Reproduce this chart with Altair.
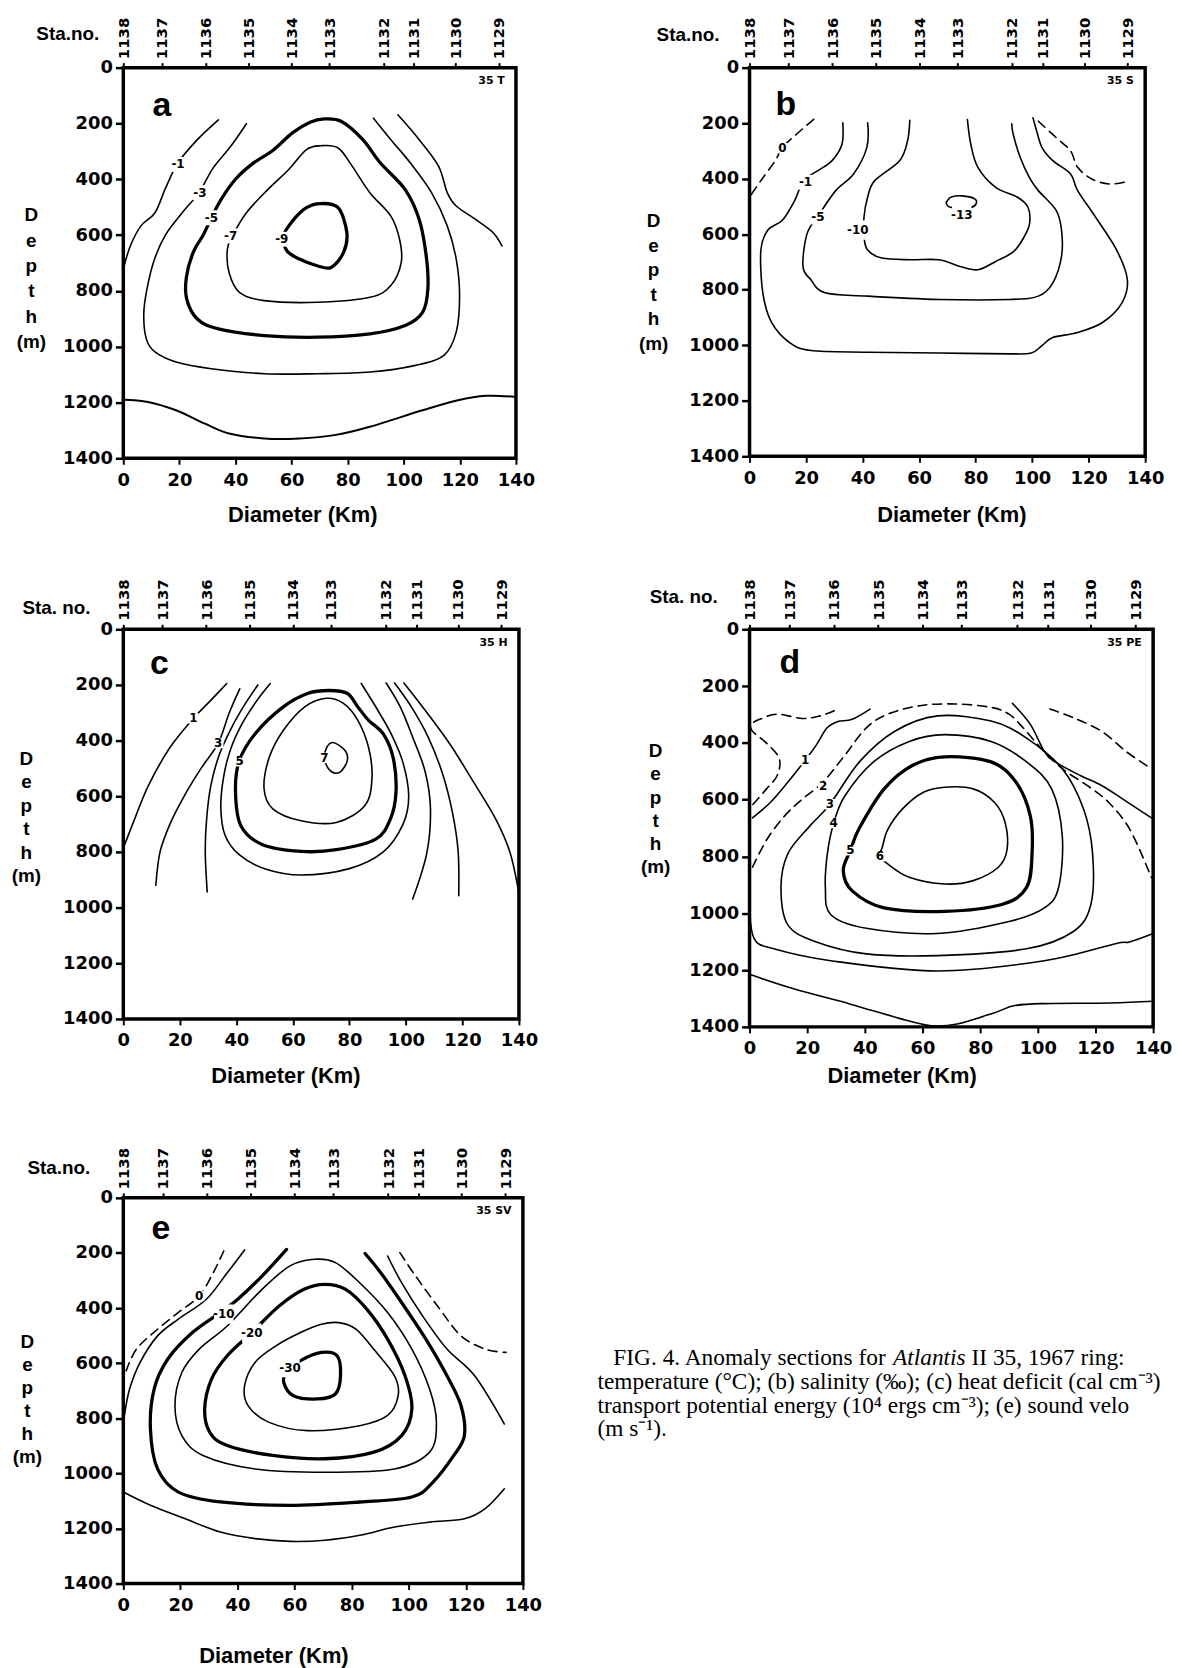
import json
import altair as alt
import pandas as pd

# ---------------- shared axis data ----------------
STATION_NAMES = ["1138", "1137", "1136", "1135", "1134", "1133", "1132", "1131", "1130", "1129"]
STATION_KM = [0, 13.8, 29.3, 44.6, 60.0, 73.5, 92.8, 103.6, 118.4, 133.8]
DEPTH_TICKS = [0, 200, 400, 600, 800, 1000, 1200, 1400]
DIAM_TICKS = [0, 20, 40, 60, 80, 100, 120, 140]

# ---------------- panel a : temperature ----------------
A_M1_L = [(33.9, 187), (26.4, 258), (19.5, 341), (15.1, 431), (11.3, 520), (6.3, 567), (2.5, 639), (0, 722)]
A_M1_R = [(97.9, 169), (105.5, 258), (112.4, 353), (115.5, 448), (118.7, 496), (125.6, 544), (131.8, 591), (135, 639)]
A_M3 = [(43.9, 201), (38.3, 282), (32.0, 360), (27.0, 448), (21.0, 520), (15.0, 600), (11.0, 690), (8.5, 790),
        (7.3, 880), (8.2, 972), (11.3, 1019), (18.8, 1055), (31.4, 1079), (50.2, 1097), (69.1, 1097), (87.9, 1091),
        (104.2, 1067), (114.3, 1031), (118.7, 948), (119.9, 817), (118.7, 686), (115.5, 567), (109.9, 448),
        (102.3, 341), (95.4, 258), (89.2, 181)]
A_M5 = [(71.6, 184), (77.8, 193), (85.4, 258), (91.6, 341), (100.5, 437), (105.5, 544), (108, 674), (108.6, 793),
        (106.7, 877), (100.5, 924), (87.9, 954), (69.1, 966), (50.2, 960), (33.9, 936), (26.4, 901), (22.6, 829),
        (22.5, 750), (25.0, 660), (28.5, 600), (31.4, 538), (35.0, 470), (40.0, 400), (46.0, 345), (53.5, 295),
        (60.3, 234), (66.6, 196)]
A_M7 = [(70.3, 280), (76.6, 288), (81.6, 353), (87.9, 448), (95.4, 532), (98.5, 615), (99.1, 698), (95.4, 781),
        (87.9, 823), (69.1, 841), (50.2, 835), (41.4, 805), (37.7, 734), (37.1, 651), (38.9, 603), (43.9, 520),
        (51.5, 437), (59, 365), (65.3, 294)]
A_M9 = [(70.3, 487), (76.6, 502), (79.7, 591), (78.5, 663), (74.1, 716), (69.1, 710), (62.8, 686), (58.4, 657),
        (57.1, 603), (60.3, 550), (65.3, 502)]
A_BOT = [(0, 1190), (8.8, 1198), (18.8, 1228), (28.9, 1275), (37.7, 1311), (50.2, 1329), (62.8, 1329), (75.3, 1317),
         (87.9, 1287), (106.7, 1228), (119.3, 1192), (129.3, 1176), (140, 1180)]
A_LABELS = [("-1", 19.5, 347), ("-3", 27.3, 448), ("-5", 31.4, 538), ("-7", 38.3, 603), ("-9", 56.5, 615)]

# ---------------- panel b : salinity ----------------
B_0L = [(22.7, 186), (16.6, 240), (11.6, 288), (9.1, 335), (4, 407), (0, 466)]
B_0R = [(102.2, 193), (108.5, 252), (113.6, 300), (116.1, 359), (121.1, 401), (127.4, 419), (134.3, 409)]
B_M1 = [(33, 199), (32.7, 276), (29.2, 335), (24.2, 371), (19.1, 407), (16, 478), (11.6, 550), (6.5, 585), (4, 657),
        (4.7, 811), (7.8, 918), (14.1, 990), (21.7, 1019), (41.8, 1025), (67, 1028), (92.2, 1031), (99.7, 1028),
        (103.5, 1001), (107.3, 972), (116.1, 954), (124.9, 918), (131.8, 847), (133.7, 764), (129.9, 657),
        (122.4, 538), (116.1, 443), (113.6, 383), (107.3, 335), (103.5, 288), (101.6, 228), (100.3, 181)]
B_M5 = [(41.8, 199), (41.5, 288), (36.8, 383), (30.5, 443), (24.8, 526), (20.4, 597), (18.9, 716), (21.7, 764),
        (26.7, 811), (41.8, 823), (67, 835), (92.2, 835), (102.2, 823), (107.3, 776), (110.4, 680), (110.4, 585),
        (108.5, 514), (102.2, 443), (99, 395), (95.8, 324), (93.3, 240), (92.8, 202)]
B_M10 = [(56.7, 190), (55.9, 264), (53.1, 335), (44.3, 407), (41.8, 466), (40.5, 538), (40.5, 609), (41.8, 657),
         (46.8, 686), (56.9, 692), (67, 692), (74.5, 716), (80.8, 728), (87.1, 698), (93.4, 663), (97.2, 609),
         (99.1, 561), (98.5, 502), (94.7, 466), (87.1, 431), (80.8, 359), (78.3, 276), (77.1, 187)]
B_M13 = [(70.1, 478), (71.4, 466), (75.1, 462), (79.6, 472), (80.2, 490), (78.3, 504), (74.5, 504), (70.7, 502),
         (69.6, 488)]
B_LABELS = [("0", 11.6, 290), ("-1", 19.8, 413), ("-5", 24.2, 538), ("-10", 38.3, 585), ("-13", 75.1, 531)]

# ---------------- panel c : heat deficit ----------------
C_1L = [(36.6, 195), (30.5, 260), (24.8, 320), (16.5, 425), (9, 559), (4, 682), (0.3, 779)]
C_2L = [(41.2, 214), (37.5, 300), (33.6, 409), (27.5, 500), (21.5, 600), (16.5, 700), (13.0, 800), (11.5, 920)]
C_3L = [(47.6, 200), (43.0, 270), (38.5, 350), (34.0, 450), (31.0, 560), (29.5, 680), (29.0, 800), (29.7, 944)]
C_4 = [(52.0, 195), (47.0, 260), (42.0, 340), (38.0, 430), (35.5, 530), (34.5, 640), (36.0, 740), (41.0, 810),
       (50.0, 860), (63.0, 883), (80.0, 860), (92.0, 800), (99.0, 700), (101.0, 600), (99.0, 480), (95.0, 380),
       (90.0, 290), (84.2, 195)]
C_3R = [(93, 193), (98, 279), (102.4, 388), (106.8, 511), (108.7, 645), (107.4, 804), (102.4, 969)]
C_2R = [(96, 193), (102, 280), (108, 390), (113, 520), (116.5, 660), (118.5, 800), (118.7, 957)]
C_1R = [(99.3, 193), (106.8, 291), (115.6, 413), (123.1, 535), (131.8, 682), (136.9, 804), (140, 950)]
C_5 = [(72.9, 220), (79.2, 230), (83, 279), (86.8, 327), (92, 376), (95.5, 462), (96.5, 584), (94.5, 682),
       (89.2, 755), (75.4, 792), (62.9, 798), (49.1, 773), (41.6, 706), (39.7, 584), (41, 474), (46.6, 376),
       (56.6, 279), (65.4, 230)]
C_6 = [(71.7, 248), (77.9, 266), (83, 327), (86.8, 425), (88, 535), (85.5, 633), (75.4, 694), (62.9, 688),
       (52.9, 645), (49.8, 572), (51.6, 462), (56.6, 364), (64.2, 279)]
C_7 = [(74.2, 407), (78.6, 437), (79.2, 474), (76.7, 513), (73.6, 511), (71.4, 474), (71.7, 431)]
C_LABELS = [("1", 24.8, 320), ("3", 33.6, 409), ("5", 41.2, 474), ("7", 71.2, 462)]

# ---------------- panel d : potential energy ----------------
D_DASH_TL = [(29.4, 287), (24.5, 305), (18.3, 314), (9.6, 299), (3.5, 317), (0.7, 335), (1, 359), (5.9, 401),
             (10.3, 455), (9.6, 515), (5.9, 562), (0.7, 622)]
D_1L = [(1, 664), (7.2, 610), (13.3, 538), (19.3, 461), (23.2, 407), (26.9, 347), (30.6, 325), (35.6, 317),
        (41.8, 281)]
D_1R = [(91.2, 261), (97.4, 335), (102.3, 431), (106, 467), (114.7, 515), (122.1, 550), (129.5, 598), (139.4, 664)]
D_DASH_2 = [(1, 838), (5.9, 742), (12.1, 658), (18.3, 598), (25.5, 538), (33.1, 443), (40.5, 347), (47.9, 299),
            (59.1, 269), (71.4, 263), (83.8, 275), (90, 299), (94.9, 347), (101.1, 419), (108.5, 491), (117.1, 550),
            (124.6, 610), (132, 706), (139.4, 874)]
D_DASH_TR = [(104.2, 281), (112.2, 311), (122.1, 359), (130.7, 431), (139.4, 491)]
D_3 = [(65.2, 305), (83.8, 323), (96.1, 383), (108.5, 491), (115.9, 634), (119, 790), (118.4, 969), (112.2, 1065),
       (96.1, 1125), (65.2, 1149), (40.5, 1143), (23.2, 1101), (13.3, 1041), (10.9, 909), (13.3, 790), (20.8, 694),
       (27.9, 616), (38.1, 467), (50.4, 359)]
D_4 = [(67.7, 371), (83.8, 395), (96.1, 467), (104.8, 562), (108.5, 730), (107.2, 909), (102.3, 981), (90, 1029),
       (65.2, 1071), (40.5, 1053), (28.2, 1005), (26.3, 909), (27.0, 790), (29.2, 682), (33.1, 586), (43, 467),
       (55.4, 395)]
D_5 = [(67.7, 449), (83.8, 467), (92.4, 538), (97.4, 658), (98.0, 790), (96.1, 909), (87.5, 969), (67.7, 993),
       (46.7, 981), (35.6, 921), (32.5, 850), (35, 778), (38.1, 700), (46.7, 562), (56.6, 479)]
D_6 = [(67.7, 556), (77.6, 562), (85.0, 610), (88.7, 682), (89.3, 778), (86.3, 838), (77.6, 885), (67.7, 897),
       (55.4, 873), (47.9, 826), (45.2, 799), (46.1, 766), (47.9, 706), (52.9, 634), (60.3, 574)]
D_7 = [(0, 969), (1.6, 1089), (8.4, 1125), (28.2, 1167), (65.2, 1203), (102.3, 1167), (126.9, 1107), (131.8, 1101),
       (140, 1071)]
D_8 = [(0, 1215), (15, 1265), (35, 1320), (52, 1370), (63, 1396), (72, 1390), (85, 1350), (92, 1325), (102, 1318),
       (125, 1316), (140, 1310)]
D_LABELS = [("1", 19.3, 461), ("2", 25.5, 553), ("3", 27.9, 616), ("4", 29.2, 682), ("5", 35, 778), ("6", 45.2, 799)]

# ---------------- panel e : sound velocity ----------------
E_0L = [(35.2, 193), (31.5, 272), (26.6, 356), (19.3, 416), (12, 477), (4.6, 549), (1, 628)]
E_0R = [(96.9, 199), (102.4, 284), (110.9, 404), (118.3, 501), (126.8, 549), (134.1, 561)]
E_M5L = [(42.5, 189), (36.4, 272), (29.1, 368), (19.3, 440), (12, 501), (5.9, 597), (2.2, 694), (0.4, 790)]
E_M5R = [(92.6, 211), (97.5, 308), (104.8, 428), (113.4, 549), (123.1, 646), (133.5, 821)]
E_M10 = [(57.2, 187), (48.6, 284), (40.1, 368), (34, 416), (24.2, 489), (15.6, 585), (10.8, 694), (9.5, 839),
         (12, 984), (19.3, 1068), (34, 1104), (58.4, 1116), (82.8, 1104), (101.1, 1086), (108.5, 1032), (115.8, 935),
         (119.5, 863), (118.3, 754), (113.4, 646), (106, 513), (97.5, 380), (90.2, 272), (84.7, 202)]
E_M15 = [(66.9, 223), (74.3, 235), (82.8, 308), (92.6, 416), (101.1, 549), (107.3, 694), (109.7, 815), (107.3, 923),
         (95, 984), (70.6, 996), (46.2, 984), (27.9, 935), (20.5, 863), (18.1, 754), (20.5, 634), (26.6, 549),
         (36.4, 465), (48.6, 332), (58.4, 247)]
E_M20 = [(70.6, 314), (77.9, 332), (85.3, 404), (92.6, 513), (98.7, 646), (101.1, 766), (97.5, 863), (87.8, 923),
         (70.6, 947), (52.3, 935), (36.4, 899), (30.3, 851), (28.5, 766), (30.9, 658), (36.4, 573), (45, 489),
         (54.7, 392), (63.3, 332)]
E_M25 = [(75.5, 453), (81.6, 477), (87.7, 549), (95, 646), (96.3, 718), (92.6, 790), (82.8, 827), (64.5, 845),
         (51.1, 815), (43.7, 754), (42.5, 682), (46.2, 597), (53.5, 537), (62.1, 489), (69.4, 459)]
E_M30 = [(69.4, 561), (74.9, 573), (76.1, 646), (74.3, 712), (68.1, 730), (59.6, 718), (56.2, 670), (57.2, 634),
         (62.1, 591)]
E_BOT = [(0, 1068), (9.5, 1116), (21.7, 1165), (34, 1213), (46.2, 1237), (58.4, 1247), (70.6, 1243), (82.8, 1225),
         (95, 1195), (107.3, 1177), (119.5, 1165), (126.8, 1128), (133.5, 1056)]
E_LABELS = [("0", 26.6, 356), ("-10", 35.2, 422), ("-20", 45, 491), ("-30", 58.4, 616)]

CAPTION_1A = "FIG. 4. Anomaly sections for"
CAPTION_1B = "Atlantis"
CAPTION_1C = "II 35, 1967 ring:"
CAPTION_2 = "temperature (°C); (b) salinity (‰); (c) heat deficit (cal cm⁻³)"
CAPTION_3 = "transport potential energy (10⁴ ergs cm⁻³); (e) sound velo"
CAPTION_4 = "(m s⁻¹)."

# ---------------- helpers ----------------
XS = alt.Scale(domain=[0, 140], nice=False, zero=False)
YS = alt.Scale(domain=[0, 1400], reverse=True, nice=False, zero=False)
WIDTHS = {"thin": 1.6, "mid": 2.0, "thick": 3.3}
SANS = "Liberation Sans"
NUM = "DejaVu Sans"

STA_EXPR = "%s[indexof(%s, datum.value)]" % (json.dumps(STATION_NAMES), json.dumps(STATION_KM))


def lines_df(contours, closed_flag, dashed_flag):
    rows = []
    for k, (wcls, style, closed, pts) in enumerate(contours):
        if closed != closed_flag or (style == "dash") != dashed_flag:
            continue
        for i, (x, y) in enumerate(pts):
            rows.append({"cid": k, "i": i, "km": x, "m": y, "sw": WIDTHS[wcls]})
    return pd.DataFrame(rows, columns=["cid", "i", "km", "m", "sw"])


def line_layer(df, interp, dash=None):
    kw = {"strokeDash": dash} if dash else {}
    return alt.Chart(df).mark_line(interpolate=interp, color="black", clip=True, strokeCap="round", **kw).encode(
        x=alt.X("km:Q", scale=XS, axis=None),
        y=alt.Y("m:Q", scale=YS, axis=None),
        order=alt.Order("i:Q"),
        detail="cid:N",
        strokeWidth=alt.StrokeWidth("sw:Q", scale=None),
    )


def panel(contours, labels, letter, letter_pos, tag, sta_title, w, h, pos):
    layers = []
    adf = pd.DataFrame({"km": [0, 140], "m": [0, 1400]})
    layers.append(alt.Chart(adf).mark_point(opacity=0).encode(
        x=alt.X("km:Q", scale=XS, axis=alt.Axis(
            orient="bottom", values=DIAM_TICKS, labelFont=NUM, labelFontSize=18, labelFontWeight="bold",
            labelPadding=7, tickSize=6, tickWidth=2, labelFlush=False, labelOverlap=False,
            title="Diameter (Km)", titleFont=SANS, titleFontSize=22, titleFontWeight="bold",
            titleX=pos["dx"], titleY=pos["dy"], titleAlign="center", titleBaseline="middle")),
        y=alt.Y("m:Q", scale=YS, axis=alt.Axis(
            values=DEPTH_TICKS, format="d", labelFont=NUM, labelFontSize=18, labelFontWeight="bold",
            labelPadding=3, tickSize=8, tickWidth=2.5, labelOverlap=False, labelFlush=False,
            title=["D", "e", "p", "t", "h", "(m)"], titleAngle=0, titleFont=SANS, titleFontSize=19,
            titleFontWeight="bold", titleLineHeight=pos["lh"], titleAlign="center", titleBaseline="top",
            titleX=pos["hx"], titleY=pos["hy"])),
    ))
    sdf = pd.DataFrame({"km": STATION_KM, "sta": STATION_NAMES})
    layers.append(alt.Chart(sdf).mark_point(opacity=0).encode(
        x=alt.X("km:Q", scale=XS, axis=alt.Axis(
            orient="top", values=STATION_KM, labelExpr=STA_EXPR, labelAngle=270, labelAlign="left",
            labelBaseline="middle", labelFont=NUM, labelFontSize=15, labelFontWeight="bold", labelPadding=4,
            tickSize=5, tickWidth=2, labelFlush=False, labelOverlap=False,
            title=sta_title, titleAngle=0, titleFont=SANS, titleFontSize=19, titleFontWeight="bold",
            titleX=pos["sx"], titleY=pos["sy"], titleAlign="left", titleBaseline="middle")),
        y=alt.Y("km:Q", scale=YS, axis=None),
    ))
    open_solid = lines_df(contours, False, False)
    closed_solid = lines_df(contours, True, False)
    open_dash = lines_df(contours, False, True)
    if len(open_solid):
        layers.append(line_layer(open_solid, "cardinal"))
    if len(closed_solid):
        layers.append(line_layer(closed_solid, "cardinal-closed"))
    if len(open_dash):
        layers.append(line_layer(open_dash, "cardinal", dash=[9, 6]))
    ldf = pd.DataFrame(labels, columns=["txt", "km", "m"])
    ldf["bg"] = [(4.5 * len(t) + 6) ** 2 for t in ldf["txt"]]
    layers.append(alt.Chart(ldf).mark_point(shape="square", filled=True, color="white", opacity=1).encode(
        x=alt.X("km:Q", scale=XS, axis=None), y=alt.Y("m:Q", scale=YS, axis=None),
        size=alt.Size("bg:Q", scale=None)))
    layers.append(alt.Chart(ldf).mark_text(font=NUM, fontSize=12, fontWeight="bold", color="black").encode(
        x=alt.X("km:Q", scale=XS, axis=None), y=alt.Y("m:Q", scale=YS, axis=None), text="txt:N"))
    tdf = pd.DataFrame({"txt": [letter, tag], "km": [letter_pos[0], 136.0], "m": [letter_pos[1], 48.0]})
    layers.append(alt.Chart(tdf.iloc[[0]]).mark_text(font=SANS, fontSize=34, fontWeight="bold", color="black").encode(
        x=alt.X("km:Q", scale=XS, axis=None), y=alt.Y("m:Q", scale=YS, axis=None), text="txt:N"))
    layers.append(alt.Chart(tdf.iloc[[1]]).mark_text(font=NUM, fontSize=11, fontWeight="bold", color="black",
                                                      align="right").encode(
        x=alt.X("km:Q", scale=XS, axis=None), y=alt.Y("m:Q", scale=YS, axis=None), text="txt:N"))
    return alt.layer(*layers).properties(width=w, height=h).resolve_axis(x="independent", y="independent")


PANEL_A = [("thin", "solid", False, A_M1_L), ("thin", "solid", False, A_M1_R), ("thin", "solid", False, A_M3),
           ("thick", "solid", True, A_M5), ("thin", "solid", True, A_M7), ("thick", "solid", True, A_M9),
           ("mid", "solid", False, A_BOT)]
PANEL_B = [("thin", "dash", False, B_0L), ("thin", "dash", False, B_0R), ("thin", "solid", False, B_M1),
           ("thin", "solid", False, B_M5), ("thin", "solid", False, B_M10), ("thin", "solid", True, B_M13)]
PANEL_C = [("thin", "solid", False, C_1L), ("thin", "solid", False, C_2L), ("thin", "solid", False, C_3L),
           ("thin", "solid", False, C_4), ("thin", "solid", False, C_3R), ("thin", "solid", False, C_2R),
           ("thin", "solid", False, C_1R), ("thick", "solid", True, C_5), ("thin", "solid", True, C_6),
           ("thin", "solid", True, C_7)]
PANEL_D = [("thin", "dash", False, D_DASH_TL), ("thin", "solid", False, D_1L), ("thin", "solid", False, D_1R),
           ("thin", "dash", False, D_DASH_2), ("thin", "dash", False, D_DASH_TR), ("thin", "solid", True, D_3),
           ("thin", "solid", True, D_4), ("thick", "solid", True, D_5), ("thin", "solid", True, D_6),
           ("thin", "solid", False, D_7), ("thin", "solid", False, D_8)]
PANEL_E = [("thin", "dash", False, E_0L), ("thin", "dash", False, E_0R), ("thin", "solid", False, E_M5L),
           ("thin", "solid", False, E_M5R), ("thick", "solid", False, E_M10), ("thin", "solid", True, E_M15),
           ("thick", "solid", True, E_M20), ("thin", "solid", True, E_M25), ("thick", "solid", True, E_M30),
           ("thin", "solid", False, E_BOT)]

pa = panel(PANEL_A, A_LABELS, "a", (13.8, 139), "35  T", "Sta.no.", 395, 393,
           {"dx": 180, "dy": 57, "hx": -93, "hy": 139, "lh": 25.5, "sx": -88, "sy": -34})
pb = panel(PANEL_B, B_LABELS, "b", (12.8, 133), "35  S", "Sta.no.", 398, 391,
           {"dx": 203, "dy": 59, "hx": -97, "hy": 145, "lh": 24.7, "sx": -94, "sy": -33})
pc = panel(PANEL_C, C_LABELS, "c", (12.8, 126), "35  H", "Sta. no.", 398, 392,
           {"dx": 163, "dy": 57, "hx": -98, "hy": 121, "lh": 23.6, "sx": -102, "sy": -22})
pd_ = panel(PANEL_D, D_LABELS, "d", (14.0, 120), "35  PE", "Sta. no.", 406, 400,
            {"dx": 153, "dy": 49, "hx": -95, "hy": 113, "lh": 23.4, "sx": -101, "sy": -33})
pe = panel(PANEL_E, E_LABELS, "e", (13.2, 115), "35  SV", "Sta.no.", 402, 388,
           {"dx": 151, "dy": 72, "hx": -97, "hy": 136, "lh": 23.0, "sx": -97, "sy": -30})

CAP_SIZE = 23.5
cap_base = alt.Chart(pd.DataFrame({"k": [0]}))
cap_kw = dict(font="Liberation Serif", fontSize=CAP_SIZE, color="black", align="left", baseline="middle")
caption = alt.layer(
    cap_base.mark_text(**cap_kw).encode(x=alt.value(-137), y=alt.value(161), text=alt.value(CAPTION_1A)),
    cap_base.mark_text(fontStyle="italic", **cap_kw).encode(
        x=alt.value(-137 + 11.971 * CAP_SIZE), y=alt.value(161), text=alt.value(CAPTION_1B)),
    cap_base.mark_text(**cap_kw).encode(
        x=alt.value(-137 + (11.971 + 3.112 + 0.25) * CAP_SIZE), y=alt.value(161), text=alt.value(CAPTION_1C)),
    cap_base.mark_text(**cap_kw).encode(x=alt.value(-153), y=alt.value(185), text=alt.value(CAPTION_2)),
    cap_base.mark_text(**cap_kw).encode(x=alt.value(-153), y=alt.value(209), text=alt.value(CAPTION_3)),
    cap_base.mark_text(**cap_kw).encode(x=alt.value(-153), y=alt.value(233), text=alt.value(CAPTION_4)),
).properties(width=400, height=100, view=alt.ViewBackground(stroke="transparent"))

chart = alt.concat(
    pa, pb, pc, pd_, pe, caption, columns=2, spacing={"row": 172, "column": 228}, bounds="flush"
).properties(
    padding={"left": 1, "top": 2, "right": 0, "bottom": 0}
).configure_view(
    stroke="black", strokeWidth=3.5
).configure_axis(
    grid=False, domain=False, labelColor="black", tickColor="black", titleColor="black"
)

chart.save("out.html", embed_options={"renderer": "svg", "actions": False})
